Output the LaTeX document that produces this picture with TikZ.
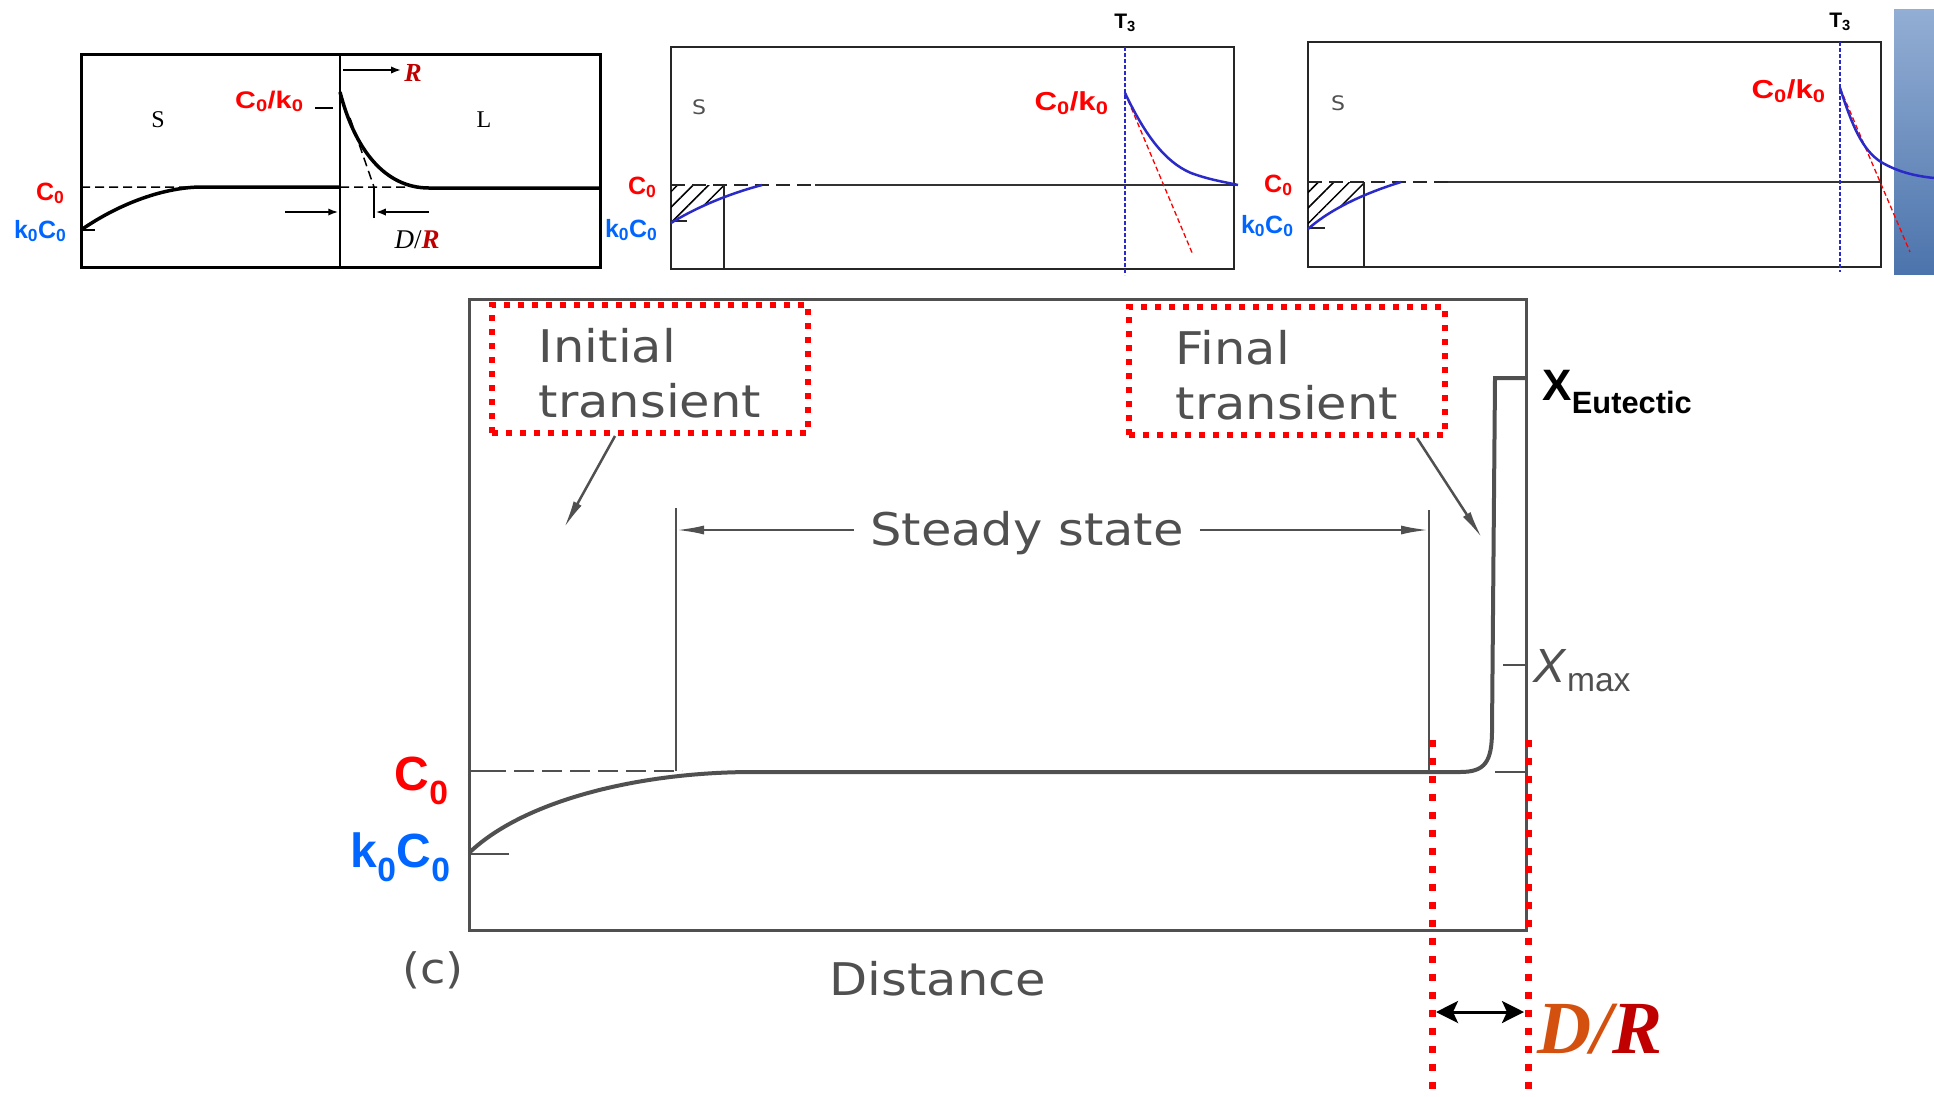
\documentclass[tikz,border=0pt]{standalone}
\usepackage{fontspec}
\setmainfont{Liberation Serif}
\setsansfont{Liberation Sans}
\newfontfamily\scanfont{DejaVu Sans}[FakeStretch=1.1]
\newfontfamily\labfont{Liberation Sans}[FakeStretch=1.2]
\usetikzlibrary{arrows.meta,patterns.meta,calc,positioning}
\definecolor{cred}{HTML}{FF0000}
\definecolor{cblue}{HTML}{0066FF}
\definecolor{dred}{HTML}{C00000}
\definecolor{dorange}{HTML}{D4500F}
\definecolor{pblue}{HTML}{2A2AC8}
\definecolor{scangray}{HTML}{505050}
\definecolor{bartop}{HTML}{93AED4}
\definecolor{barbot}{HTML}{4C74AC}
\newcommand\fsz[1]{\fontsize{#1}{#1}\selectfont}

\begin{document}
\begin{tikzpicture}[x=1pt,y=-1pt,>=Latex,
  lab/.style={font=\sffamily\bfseries\fsz{25}},
  toplab/.style={font=\labfont\bfseries\fsz{24},text=cred,anchor=base east},
  scan/.style={font=\scanfont\fsz{45},text=scangray},
  tbox/.style={draw=cred,line width=6pt,dash pattern=on 6pt off 8pt,minimum width=316pt,minimum height=128pt,text height=96pt,text depth=0pt,align=left,text=scangray,font=\scanfont\fontsize{45}{55}\selectfont},
  sline/.style={scangray,line width=2.5pt},
  sarrow/.style={sline,-{Latex[length=28pt,width=9pt]}},
  hatch/.style={pattern={Lines[angle=45,distance=11pt,line width=1.5pt]}},
  rdots/.style={cred,line width=7pt,dash pattern=on 7pt off 11pt}]
\useasboundingbox (0,0) rectangle (1934,1096);

\draw[line width=3pt] (81,54) rectangle (600,267);\draw[line width=2pt] (340,54)--(340,267);
\node[font=\fsz{24}] (s1) at (158,120){S};\node[font=\fsz{24}] (l1) at (484,120){L};
\draw[line width=1.5pt,dash pattern=on 9pt off 5pt] (81,187)--(202,187) (340,187)--(407,187) (350,118)--(374,187);
\draw[line width=3.5pt] (81,230) .. controls (120,203) and (165,187) .. (202,187)--(340,187);
\draw[line width=3.5pt] (340,92) .. controls (355,150) and (385,188) .. (429,188)--(600,188);
\draw[line width=1.5pt] (374,187)--(374,218) (81,230)--(95,230) (315,108)--(333,108);
\draw[->,line width=1.5pt] (285,212)--(338,212);\draw[->,line width=1.5pt] (429,212)--(376,212);
\node[font=\bfseries\itshape\fsz{26},text=dred] (r1) at (413,73){R};\draw[->,line width=1.5pt] (343,70)--(r1.west|-343,70);
\node[font=\fsz{27}] (dr1) at (417,240){\textit{D}/\textcolor{dred}{\bfseries\itshape R}};
\node[toplab] (c0k0a) at (307,108){C\textsubscript{0}/k\textsubscript{0}};
\node[lab,text=cred,anchor=base east] (c0a) at (68,200){C\textsubscript{0}};\node[lab,text=cblue,anchor=base east] (k0a) at (70,238){k\textsubscript{0}C\textsubscript{0}};

\draw[line width=1.8pt,black!85] (671,47) rectangle (1234,269);
\begin{scope}\clip (671,185) rectangle (724,232);\fill[hatch] (671,185)--(762,185) .. controls (735,192) and (700,205) .. (671,223)--cycle;\end{scope}
\draw[line width=1.5pt,black!85] (724,185)--(724,269) (671,221)--(687,221);
\draw[line width=1.5pt,black!85,dash pattern=on 14pt off 7pt] (671,185)--(815,185);\draw[line width=2.5pt,black!80] (815,185)--(1236,185);
\draw[pblue,line width=2.5pt] (671,223) .. controls (700,205) and (735,192) .. (762,185);
\draw[pblue,line width=1.2pt,dash pattern=on 4pt off 2pt] (1125,47)--(1125,275);
\draw[cred,line width=1.3pt,dash pattern=on 5pt off 3pt] (1125,93)--(1193,255);
\draw[pblue,line width=2.5pt] (1125,93) .. controls (1145,135) and (1165,162) .. (1191,173) .. controls (1210,180) and (1225,182) .. (1238,185);
\node[font=\scanfont\fsz{20},text=scangray] (s2) at (699,107){S};
\node[font=\sffamily\bfseries\fsz{21},anchor=base] (t3a) at (1125,28){T\textsubscript{3}};
\node[toplab,font=\labfont\bfseries\fsz{26}] (c0k0b) at (1112,110){C\textsubscript{0}/k\textsubscript{0}};
\node[lab,text=cred,anchor=base east] (c0b) at (660,194){C\textsubscript{0}};\node[lab,text=cblue,anchor=base east] (k0b) at (661,237){k\textsubscript{0}C\textsubscript{0}};

\shade[top color=bartop,bottom color=barbot] (1894,9) rectangle (1934,274);
\draw[line width=1.8pt,black!85] (1308,42) rectangle (1881,267);
\begin{scope}\clip (1308,182) rectangle (1364,235);\fill[hatch] (1308,182)--(1401,182) .. controls (1375,190) and (1335,205) .. (1308,229)--cycle;\end{scope}
\draw[line width=1.5pt,black!85] (1364,182)--(1364,267) (1308,228)--(1325,228);
\draw[line width=1.5pt,black!85,dash pattern=on 14pt off 7pt] (1308,182)--(1448,182);\draw[line width=2.5pt,black!80] (1448,182)--(1881,182);
\draw[pblue,line width=2.5pt] (1308,229) .. controls (1335,205) and (1375,190) .. (1401,182);
\draw[pblue,line width=1.2pt,dash pattern=on 4pt off 2pt] (1840,42)--(1840,272);
\draw[cred,line width=1.3pt,dash pattern=on 5pt off 3pt] (1840,88)--(1910,252);
\draw[pblue,line width=2.5pt] (1840,88) .. controls (1852,125) and (1862,150) .. (1881,162) .. controls (1898,172) and (1915,176) .. (1934,178);
\node[font=\scanfont\fsz{20},text=scangray] (s3) at (1338,103){S};
\node[font=\sffamily\bfseries\fsz{21},anchor=base] (t3b) at (1840,27){T\textsubscript{3}};
\node[toplab,font=\labfont\bfseries\fsz{26}] (c0k0c) at (1829,98){C\textsubscript{0}/k\textsubscript{0}};
\node[lab,text=cred,anchor=base east] (c0c) at (1296,192){C\textsubscript{0}};\node[lab,text=cblue,anchor=base east] (k0c) at (1297,233){k\textsubscript{0}C\textsubscript{0}};

\draw[scangray,line width=3pt] (469,299) rectangle (1526,930);
\draw[scangray,line width=4pt] (470,852) .. controls (525,800) and (640,772) .. (753,772)--(1460,772) .. controls (1485,772) and (1492,762) .. (1492,730)--(1495,378)--(1526,378);
\draw[sline] (469,771)--(506,771) (469,854)--(509,854) (1495,772)--(1526,772) (1503,665)--(1526,665) (676,508)--(676,771) (1429,510)--(1429,772);
\draw[sline,dash pattern=on 20pt off 8pt] (514,771)--(682,771);
\node[tbox] (init) at (650,369){Initial\\transient};\node[tbox] (final) at (1287,371){Final\\transient};
\coordinate (initpt) at (564,528);\coordinate (finalpt) at (1482,538);
\draw[sarrow] ([xshift=-35pt]init.south)--(initpt);\draw[sarrow] ([xshift=130pt]final.south)--(finalpt);
\node[scan,anchor=base,inner xsep=16pt] (steady) at (1027,545){Steady state};
\coordinate (ssl) at (676,530);\coordinate (ssr) at (1429,530);
\draw[sarrow] (steady.west|-ssl)--(ssl);\draw[sarrow] (steady.east|-ssr)--(ssr);
\node[scan,anchor=base] (dist) at (938,995){Distance};\node[scan,anchor=base,font=\scanfont\fsz{42}] (plabel) at (433,983){(c)};
\node[font=\sffamily\bfseries\fsz{48},text=cred,anchor=base east] (c0m) at (452,790){C\textsubscript{0}};
\node[font=\sffamily\bfseries\fsz{48},text=cblue,anchor=base east] (k0m) at (454,867){k\textsubscript{0}C\textsubscript{0}};
\node[font=\sffamily\bfseries\fsz{44},anchor=base west] (xeut) at (1539,400){X\textsubscript{Eutectic}};
\node[font=\sffamily\fsz{48},text=scangray,anchor=base west] (xmax) at (1530,682){\textit{X}\textsubscript{max}};
\draw[rdots] (1432,740)--(1432,1096) (1528,740)--(1528,1096);
\draw[{Stealth[length=22pt,width=22pt,inset=5pt]}-{Stealth[length=22pt,width=22pt,inset=5pt]},line width=3pt] (1436,1012)--(1524,1012);
\node[font=\bfseries\itshape\fsz{75},anchor=base west,inner sep=0pt] (dr2) at (1537,1053){\textcolor{dorange}{D/}\textcolor{dred}{R}};
\end{tikzpicture}
\end{document}
